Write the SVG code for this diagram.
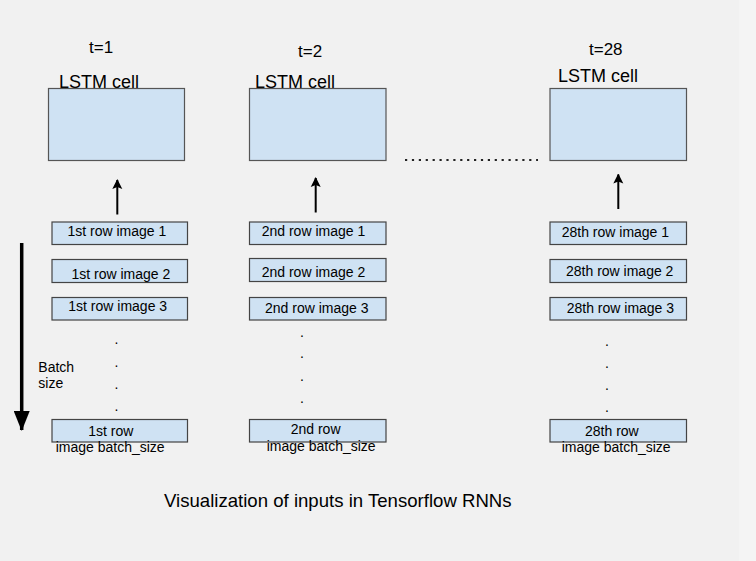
<svg xmlns="http://www.w3.org/2000/svg" width="756" height="561" viewBox="0 0 756 561">
<defs>
<style>
text{font-family:"Liberation Sans",Arial,sans-serif;fill:#000}
.cell{fill:#cfe2f3;stroke:#555;stroke-width:1.2}
.row{fill:#cfe2f3;stroke:#444;stroke-width:1.2}
.t14{font-size:14px}
.t17{font-size:17px}
.t18{font-size:18px}
.cap{font-size:18.6px}
.dot{font-size:14px;text-anchor:middle}
.arr{stroke:#000;stroke-width:2;fill:none}
</style>
<marker id="ah" viewBox="0 0 10 14" refX="9" refY="7" markerWidth="10" markerHeight="14" markerUnits="userSpaceOnUse" orient="auto">
<path d="M0,2 L10,7 L0,12 L2,7 z" fill="#000"/>
</marker>
<marker id="bigah" viewBox="0 0 20 16" refX="19" refY="8" markerWidth="20" markerHeight="16" markerUnits="userSpaceOnUse" orient="auto">
<path d="M0,0 L20,8 L0,16 z" fill="#000"/>
</marker>
</defs>
<rect x="0" y="0" width="756" height="561" fill="#f1f1f1"/>
<rect x="739" y="0" width="17" height="561" fill="#f4f4f4"/>

<g id="connectors">
<line class="arr" x1="117.3" y1="214.5" x2="117.3" y2="180" marker-end="url(#ah)"/>
<line class="arr" x1="315.7" y1="212.5" x2="315.7" y2="178" marker-end="url(#ah)"/>
<line class="arr" x1="618.3" y1="209" x2="618.3" y2="174.5" marker-end="url(#ah)"/>
<line x1="21.7" y1="243" x2="21.7" y2="430" stroke="#000" stroke-width="3.5" marker-end="url(#bigah)"/>
<line x1="405" y1="160" x2="538" y2="160" stroke="#222" stroke-width="2.2" stroke-dasharray="2.2 4.7"/>
</g>

<g id="cell1">
<text class="t17" x="89" y="52.5">t=1</text>
<text class="t18" x="59" y="88">LSTM cell</text>
<rect class="cell" x="48.5" y="88.5" width="136" height="72"/>
</g>
<g id="cell2">
<text class="t17" x="298" y="56.5">t=2</text>
<text class="t18" x="255" y="88">LSTM cell</text>
<rect class="cell" x="249.5" y="88.5" width="136.5" height="72"/>
</g>
<g id="cell3">
<text class="t17" x="589" y="55">t=28</text>
<text class="t18" x="558" y="82.3">LSTM cell</text>
<rect class="cell" x="550" y="88.5" width="136.5" height="72"/>
</g>

<g id="col1">
<g id="c1r1"><rect class="row" x="52" y="222" width="135.5" height="22.5"/><text class="t14" x="67.5" y="235.7">1st row image 1</text></g>
<g id="c1r2"><rect class="row" x="52" y="259.5" width="135.5" height="23"/><text class="t14" x="71.5" y="279.3">1st row image 2</text></g>
<g id="c1r3"><rect class="row" x="52" y="297.5" width="135.5" height="22.5"/><text class="t14" x="68.3" y="310.7">1st row image 3</text></g>
<text class="dot" x="116.5" y="344.3">.</text>
<text class="dot" x="116.5" y="366.7">.</text>
<text class="dot" x="116.5" y="389">.</text>
<text class="dot" x="116.5" y="411">.</text>
<g id="c1rN"><rect class="row" x="52" y="419.5" width="135.5" height="22.5"/><text class="t14" x="88.3" y="435.7">1st row</text><text class="t14" x="55.7" y="452">image batch_size</text></g>
</g>

<g id="batchlabel">
<text class="t14" x="38.3" y="371.7">Batch</text>
<text class="t14" x="38.3" y="388.3">size</text>
</g>

<g id="col2">
<g id="c2r1"><rect class="row" x="249.5" y="222" width="136.5" height="22.5"/><text class="t14" x="261.7" y="235.7">2nd row image 1</text></g>
<g id="c2r2"><rect class="row" x="249.5" y="258.5" width="136.5" height="23"/><text class="t14" x="261.7" y="276.7">2nd row image 2</text></g>
<g id="c2r3"><rect class="row" x="249.5" y="297.5" width="136.5" height="22.5"/><text class="t14" x="265" y="313.3">2nd row image 3</text></g>
<text class="dot" x="302" y="336.7">.</text>
<text class="dot" x="302" y="358.3">.</text>
<text class="dot" x="302" y="381">.</text>
<text class="dot" x="302" y="403.3">.</text>
<g id="c2rN"><rect class="row" x="249.5" y="419.5" width="136.5" height="22.5"/><text class="t14" x="290.7" y="434">2nd row</text><text class="t14" x="266.7" y="450.7">image batch_size</text></g>
</g>

<g id="col3">
<g id="c3r1"><rect class="row" x="550" y="222" width="136.5" height="22.5"/><text class="t14" x="561.7" y="237.3">28th row image 1</text></g>
<g id="c3r2"><rect class="row" x="550" y="259.5" width="136.5" height="23"/><text class="t14" x="566" y="276">28th row image 2</text></g>
<g id="c3r3"><rect class="row" x="550" y="297.5" width="136.5" height="22.5"/><text class="t14" x="566.7" y="313.3">28th row image 3</text></g>
<text class="dot" x="607" y="345.7">.</text>
<text class="dot" x="607" y="367.7">.</text>
<text class="dot" x="607" y="390">.</text>
<text class="dot" x="607" y="412">.</text>
<g id="c3rN"><rect class="row" x="550" y="419.5" width="136.5" height="22.5"/><text class="t14" x="585" y="435.7">28th row</text><text class="t14" x="561.7" y="452.3">image batch_size</text></g>
</g>

<g id="caption">
<text class="cap" x="164" y="507.3">Visualization of inputs in Tensorflow RNNs</text>
</g>
</svg>
